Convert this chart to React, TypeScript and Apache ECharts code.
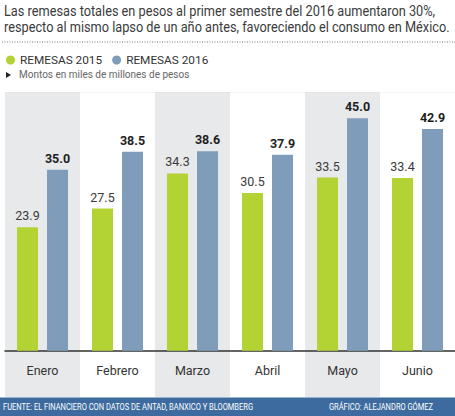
import React, { useEffect, useRef } from "react";
import * as echarts from "echarts";

const categories = ["Enero", "Febrero", "Marzo", "Abril", "Mayo", "Junio"];
const remesas2015 = [23.9, 27.5, 34.3, 30.5, 33.5, 33.4];
const remesas2016 = [35.0, 38.5, 38.6, 37.9, 45.0, 42.9];
const seriesNames = ["REMESAS 2015", "REMESAS 2016"];
const titleLines = [
  "Las remesas totales en pesos al primer semestre del 2016 aumentaron 30%,",
  "respecto al mismo lapso de un año antes, favoreciendo el consumo en México.",
];
const noteText = "Montos en miles de millones de pesos";
const sourceText = "FUENTE: EL FINANCIERO CON DATOS DE ANTAD, BANXICO Y BLOOMBERG";
const creditText = "GRÁFICO: ALEJANDRO GÓMEZ";

const GREEN = "#b3d234";
const BLUE = "#7f9dbb";
const BAND = "#e8e9eb";
const FONT = "Roboto, sans-serif";

export default function App() {
  const ref = useRef<HTMLDivElement>(null);
  useEffect(() => {
    document.body.style.margin = "0";
    if (!ref.current) return;
    const chart = echarts.init(ref.current, null, { renderer: "svg" });
    chart.setOption({
      animation: false,
      backgroundColor: "#ffffff",
      grid: [
        { left: 5, right: 0, top: 92.3, bottom: 65.3 },
        { left: 5, right: 0, top: 350.7, bottom: 19 },
      ],
      legend: {
        left: 1,
        top: 49,
        icon: "circle",
        itemWidth: 9,
        itemHeight: 9,
        itemGap: 10,
        data: seriesNames,
        textStyle: { fontFamily: FONT, fontSize: 11.8, color: "#333" },
      },
      xAxis: [
        {
          type: "category",
          gridIndex: 0,
          data: categories,
          axisLine: { show: true, lineStyle: { color: "#333", width: 1.5 } },
          axisTick: { show: false },
          axisLabel: { show: false },
          splitArea: { show: true, areaStyle: { color: [BAND, "#ffffff"] } },
        },
        {
          type: "category",
          gridIndex: 1,
          data: categories,
          axisLine: { show: false },
          axisTick: { show: false },
          position: "top",
          axisLabel: {
            show: true,
            inside: true,
            margin: 13,
            fontFamily: FONT,
            fontSize: 12.5,
            color: "#333",
            verticalAlign: "top",
          },
          splitArea: { show: true, areaStyle: { color: [BAND, "#ffffff"] } },
        },
      ],
      yAxis: [
        {
          type: "value",
          gridIndex: 0,
          min: 0,
          max: 50,
          interval: 10,
          axisLabel: { show: false },
          axisLine: { show: false },
          axisTick: { show: false },
          splitLine: { show: true, lineStyle: { color: "#d9d9d9", width: 1 } },
        },
        {
          type: "value",
          gridIndex: 1,
          min: 0,
          max: 1,
          show: false,
          splitLine: { show: false },
        },
      ],
      series: [
        {
          name: seriesNames[0],
          type: "bar",
          xAxisIndex: 0,
          yAxisIndex: 0,
          data: remesas2015,
          barWidth: 21,
          barGap: "43%",
          itemStyle: { color: GREEN },
          label: {
            show: true,
            position: "top",
            distance: 5,
            formatter: (p: any) => p.value.toFixed(1),
            fontFamily: FONT,
            fontSize: 12.5,
            color: "#3a3a3a",
          },
        },
        {
          name: seriesNames[1],
          type: "bar",
          xAxisIndex: 0,
          yAxisIndex: 0,
          data: remesas2016,
          barWidth: 21,
          barGap: "43%",
          itemStyle: { color: BLUE },
          label: {
            show: true,
            position: "top",
            distance: 5,
            formatter: (p: any) => p.value.toFixed(1),
            fontFamily: FONT,
            fontSize: 12.5,
            fontWeight: "bold",
            color: "#1e1e1e",
          },
        },
      ],
      graphic: [
        {
          type: "text",
          x: 4,
          y: 2,
          scaleX: 0.85,
          style: {
            text: titleLines.join("\n"),
            fontFamily: FONT,
            fontSize: 15,
            lineHeight: 16.5,
            fill: "#3a3a3a",
          },
        },
        {
          type: "line",
          shape: { x1: 2, y1: 42, x2: 455, y2: 42 },
          style: { stroke: "#777", lineWidth: 1, lineDash: [1, 1.5] },
        },
        {
          type: "polygon",
          shape: { points: [[6, 72], [11, 75], [6, 78]] },
          style: { fill: "#222" },
        },
        {
          type: "text",
          left: 19,
          top: 69,
          style: {
            text: noteText,
            fontFamily: FONT,
            fontSize: 10,
            fill: "#666",
          },
        },
        {
          type: "rect",
          shape: { x: 0, y: 397.5, width: 455, height: 18.5 },
          style: { fill: "#3d6b9f" },
        },
        {
          type: "text",
          x: 3,
          y: 401.5,
          scaleX: 0.79,
          style: { text: sourceText, fontFamily: FONT, fontSize: 9.5, fill: "#ffffff" },
        },
        {
          type: "text",
          x: 329,
          y: 401.5,
          scaleX: 0.79,
          style: { text: creditText, fontFamily: FONT, fontSize: 9.5, fill: "#ffffff" },
        },
      ],
    });
    return () => chart.dispose();
  }, []);
  return <div ref={ref} style={{ width: 455, height: 416 }} />;
}
